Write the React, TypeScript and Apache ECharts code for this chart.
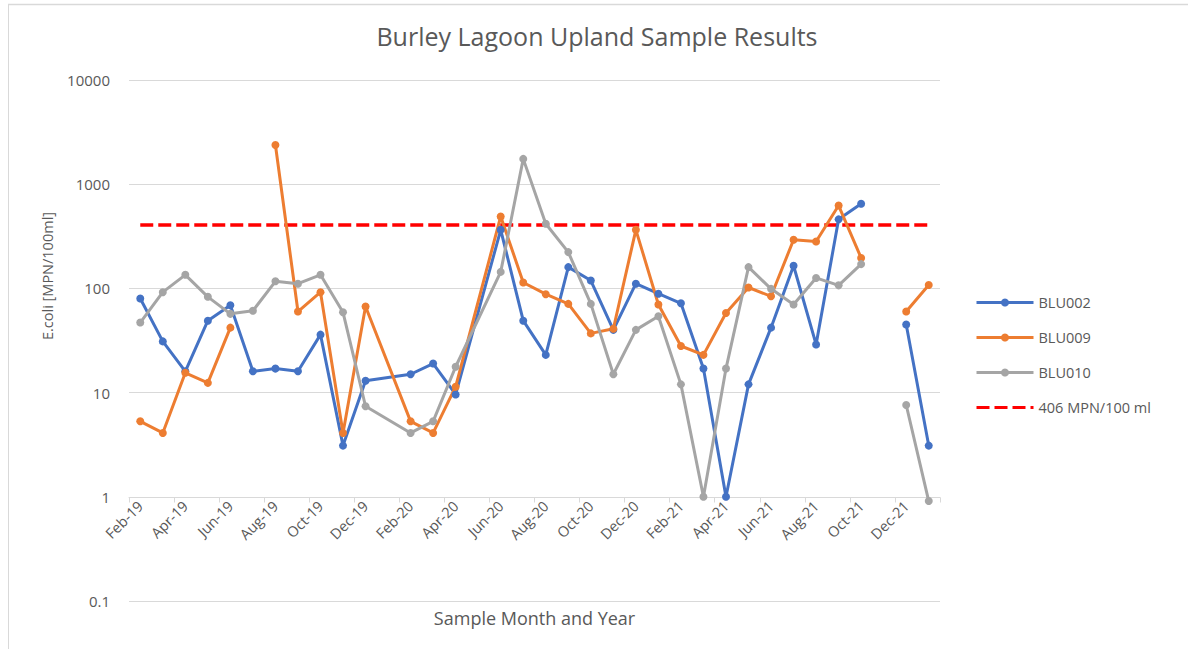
import React, { useEffect, useRef } from "react";
import * as echarts from "echarts";

// Months on the date axis (Feb-19 .. Jan-22)
const months = [
  "Feb-19", "Mar-19", "Apr-19", "May-19", "Jun-19", "Jul-19", "Aug-19", "Sep-19", "Oct-19", "Nov-19", "Dec-19",
  "Jan-20", "Feb-20", "Mar-20", "Apr-20", "May-20", "Jun-20", "Jul-20", "Aug-20", "Sep-20", "Oct-20", "Nov-20", "Dec-20",
  "Jan-21", "Feb-21", "Mar-21", "Apr-21", "May-21", "Jun-21", "Jul-21", "Aug-21", "Sep-21", "Oct-21", "Nov-21", "Dec-21",
  "Jan-22",
];

// null = month not sampled (line joins across), "-" = blank cell (line breaks)
const blu002 = [80, 31, 16, 49, 69, 16, 17, 16, 36, 3.1, 13, null, 15, 19, 9.6, null, 365, 49, 23, 160, 119, 40, 111, 89, 72, 17, 1, 12, 42, 165, 29, 460, 650, "-", 45, 3.1];
const blu009 = [5.3, 4.1, 15.5, 12.4, 42, "-", 2380, 60, 92, 4.1, 67, null, 5.3, 4.1, 11.4, null, 490, 114, 88, 71, 37, 41, 365, 70, 28, 23, 58, 102, 84, 293, 282, 624, 196, "-", 60, 108];
const blu010 = [47, 92, 135, 83, 57, 61, 117, 111, 135, 59, 7.4, null, 4.1, 5.3, 17.7, null, 144, 1750, 417, 223, 71, 15, 40, 54, 12, 1, 17, 160, 99, 70, 126, 107, 171, "-", 7.6, 0.91];
const thresholdValue = 406;
const thresholdName = "406 MPN/100 ml";

const seriesNames = ["BLU002", "BLU009", "BLU010"];
const seriesColors = ["#4472C4", "#ED7D31", "#A5A5A5"];

const FONT = "'Open Sans', sans-serif";
const TXT = "#595959";

function toPairs(vals: any[]) {
  const out: any[] = [];
  vals.forEach((v, i) => {
    if (v === null) return;
    out.push([i, v]);
  });
  return out;
}

export default function App() {
  const ref = useRef<HTMLDivElement>(null);
  useEffect(() => {
    document.body.style.margin = "0";
    if (!ref.current) return;
    const chart = echarts.init(ref.current, undefined, { renderer: "svg" });
    const all = [blu002, blu009, blu010];
    const lineSeries = all.map((vals, k) => ({
      name: seriesNames[k],
      type: "line",
      data: toPairs(vals),
      connectNulls: false,
      symbol: "circle",
      symbolSize: 8,
      color: seriesColors[k],
      lineStyle: { width: 3, color: seriesColors[k] },
      itemStyle: { color: seriesColors[k] },
      clip: false,
      z: 3,
    }));
    const option: any = {
      animation: false,
      backgroundColor: "#ffffff",
      textStyle: { fontFamily: FONT },
      title: {
        text: "Burley Lagoon Upland Sample Results",
        left: 597,
        top: 23,
        padding: 0,
        textAlign: "center",
        textStyle: { fontFamily: FONT, fontSize: 25, fontWeight: "normal", color: TXT },
      },
      legend: {
        orient: "vertical",
        left: 975,
        top: 295,
        padding: 0,
        itemWidth: 57,
        itemHeight: 10,
        itemGap: 20,
        lineStyle: { width: 3 },
        textStyle: { fontFamily: FONT, fontSize: 14.5, lineHeight: 15, color: TXT },
        data: [
          ...seriesNames,
          { name: thresholdName, itemStyle: { color: "rgba(0,0,0,0)", opacity: 0, borderWidth: 0 } },
        ],
      },
      grid: { left: 129, right: 248, top: 80, bottom: 48 },
      xAxis: {
        type: "category",
        data: months,
        position: "bottom",
        offset: -103.5,
        boundaryGap: true,
        axisLine: { show: true, lineStyle: { color: "#d9d9d9", width: 1 } },
        axisTick: { show: true, interval: 1, length: 5, lineStyle: { color: "#d9d9d9" } },
        axisLabel: { interval: 1, rotate: 45, margin: 6, fontFamily: FONT, fontSize: 14.5, color: TXT },
        splitLine: { show: false },
        name: "Sample Month and Year",
        nameLocation: "middle",
        nameGap: 111,
        nameTextStyle: { fontFamily: FONT, fontSize: 18, color: TXT },
      },
      yAxis: {
        type: "log",
        logBase: 10,
        min: 0.1,
        max: 10000,
        axisLine: { show: false },
        axisTick: { show: false },
        axisLabel: {
          margin: 19,
          fontFamily: FONT,
          fontSize: 15,
          color: TXT,
          formatter: (v: number) => (v < 1 ? v.toFixed(1) : String(Math.round(v))),
        },
        splitLine: { show: true, lineStyle: { color: "#d9d9d9", width: 1 } },
      },
      graphic: [
        { type: "line", shape: { x1: 8, y1: 4.5, x2: 1188, y2: 4.5 }, style: { stroke: "#d9d9d9", lineWidth: 1.5 } },
        { type: "line", shape: { x1: 8.5, y1: 4, x2: 8.5, y2: 649 }, style: { stroke: "#d9d9d9", lineWidth: 1 } },
        {
          type: "text",
          x: 47,
          y: 276,
          rotation: Math.PI / 2,
          style: {
            text: "E.coli [MPN/100ml]",
            textAlign: "center",
            textVerticalAlign: "middle",
            fontFamily: FONT,
            fontSize: 14.5,
            fill: TXT,
          },
        },
      ],
      series: [
        ...lineSeries,
        {
          name: thresholdName,
          type: "line",
          data: months.map(() => thresholdValue),
          symbol: "none",
          showSymbol: false,
          color: "#FF0000",
          lineStyle: { width: 3.5, color: "#FF0000", type: [13, 5] },
          itemStyle: { color: "#FF0000" },
          z: 2,
        },
      ],
    };
    chart.setOption(option);
    return () => chart.dispose();
  }, []);
  return <div ref={ref} style={{ width: 1188, height: 649 }} />;
}
